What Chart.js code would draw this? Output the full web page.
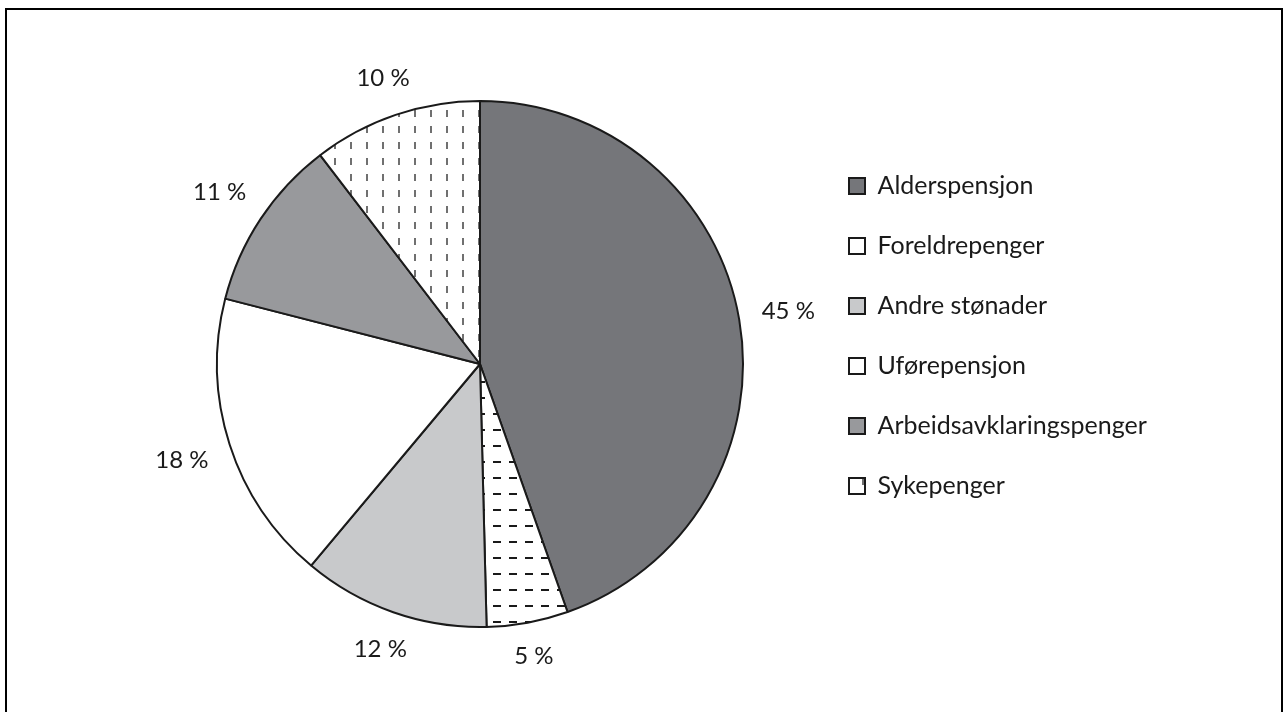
<!DOCTYPE html>
<html>
<head>
<meta charset="utf-8">
<script src="https://cdn.jsdelivr.net/npm/chart.js@4.4.1/dist/chart.umd.min.js"></script>
<style>
  html, body { margin: 0; padding: 0; background: #fff; overflow: hidden; }
  #frame { position: absolute; left: 5px; top: 8px; width: 1274px; height: 720px; border: 2px solid #000; }
  #wrap { position: absolute; left: 0; top: 0; width: 1284px; height: 712px; }
</style>
</head>
<body>
<div id="frame"></div>
<div id="wrap"><canvas id="chart"></canvas></div>
<script>
// slices, clockwise from 12 o'clock
const categories = ['Alderspensjon', 'Foreldrepenger', 'Andre stønader', 'Uførepensjon', 'Arbeidsavklaringspenger', 'Sykepenger'];
const shares = [44.6, 5.0, 11.5, 17.9, 10.6, 10.4];
const percentLabels = ['45 %', '5 %', '12 %', '18 %', '11 %', '10 %'];

const FONT = 'Lato, "Open Sans", sans-serif';
const TEXT = '#1a1a1a';
const LEGEND_SIZE = 25;
const LEGEND_PAD = 35;
const BOX = 16;

const canvas = document.getElementById('chart');
const ctx2d = canvas.getContext('2d');

// small 16x16 tiles for the hatched slices
function dashPattern(draw) {
  const tile = document.createElement('canvas');
  tile.width = 16;
  tile.height = 16;
  const g = tile.getContext('2d');
  g.fillStyle = '#fff';
  g.fillRect(0, 0, 16, 16);
  draw(g);
  return ctx2d.createPattern(tile, 'repeat');
}

const horizDashes = dashPattern(g => {
  g.fillStyle = '#1a1a1a';
  g.fillRect(13, 13, 8, 2);
  g.fillRect(-3, 13, 8, 2);
});

const vertDashes = dashPattern(g => {
  g.fillStyle = '#707070';
  g.fillRect(14, 14, 2, 7);
  g.fillRect(14, -2, 2, 7);
});

const fills = ['#75767a', horizDashes, '#c8c9cb', '#ffffff', '#98999c', vertDashes];

// legend keeps its natural width (Chart.js adds 10px to vertical legends)
ctx2d.font = LEGEND_SIZE + 'px ' + FONT;
const longest = Math.max(...categories.map(c => ctx2d.measureText(c).width));
const legendWidth = LEGEND_PAD + BOX + LEGEND_SIZE / 2 + longest + 10;
const legendLeft = 849 - LEGEND_PAD;
const rightPad = Math.max(0, 1284 - legendLeft - legendWidth);

const sliceLabels = {
  id: 'sliceLabels',
  afterDatasetsDraw(chart) {
    const ctx = chart.ctx;
    const meta = chart.getDatasetMeta(0);
    ctx.save();
    ctx.font = '24px ' + FONT;
    ctx.fillStyle = TEXT;
    ctx.textAlign = 'center';
    ctx.textBaseline = 'middle';
    meta.data.forEach((arc, i) => {
      const { x, y, startAngle, endAngle, outerRadius } =
        arc.getProps(['x', 'y', 'startAngle', 'endAngle', 'outerRadius'], true);
      const mid = (startAngle + endAngle) / 2;
      const cx = Math.cos(mid);
      const cy = Math.sin(mid);
      const text = percentLabels[i];
      const w = ctx.measureText(text).width;
      const d = outerRadius + 22 + (w / 2) * Math.abs(cx) + 9 * Math.abs(cy);
      ctx.fillText(text, x + cx * d, y + cy * d);
    });
    ctx.restore();
  }
};

new Chart(canvas, {
  type: 'pie',
  data: {
    labels: categories,
    datasets: [{
      data: shares,
      backgroundColor: fills,
      borderColor: '#1a1a1a',
      borderWidth: 2
    }]
  },
  options: {
    responsive: true,
    maintainAspectRatio: false,
    animation: false,
    layout: {
      padding: { left: 2 * 480 - legendLeft, right: rightPad, top: 100, bottom: 84 }
    },
    plugins: {
      tooltip: { enabled: false },
      legend: {
        position: 'right',
        align: 'start',
        title: {
          display: true,
          text: '',
          font: { size: 10, lineHeight: 1 },
          padding: { top: 28.5, bottom: 0 }
        },
        labels: {
          boxWidth: BOX,
          boxHeight: BOX,
          padding: LEGEND_PAD,
          color: TEXT,
          font: { family: FONT, size: LEGEND_SIZE }
        }
      }
    }
  },
  plugins: [sliceLabels]
});
</script>
</body>
</html>
